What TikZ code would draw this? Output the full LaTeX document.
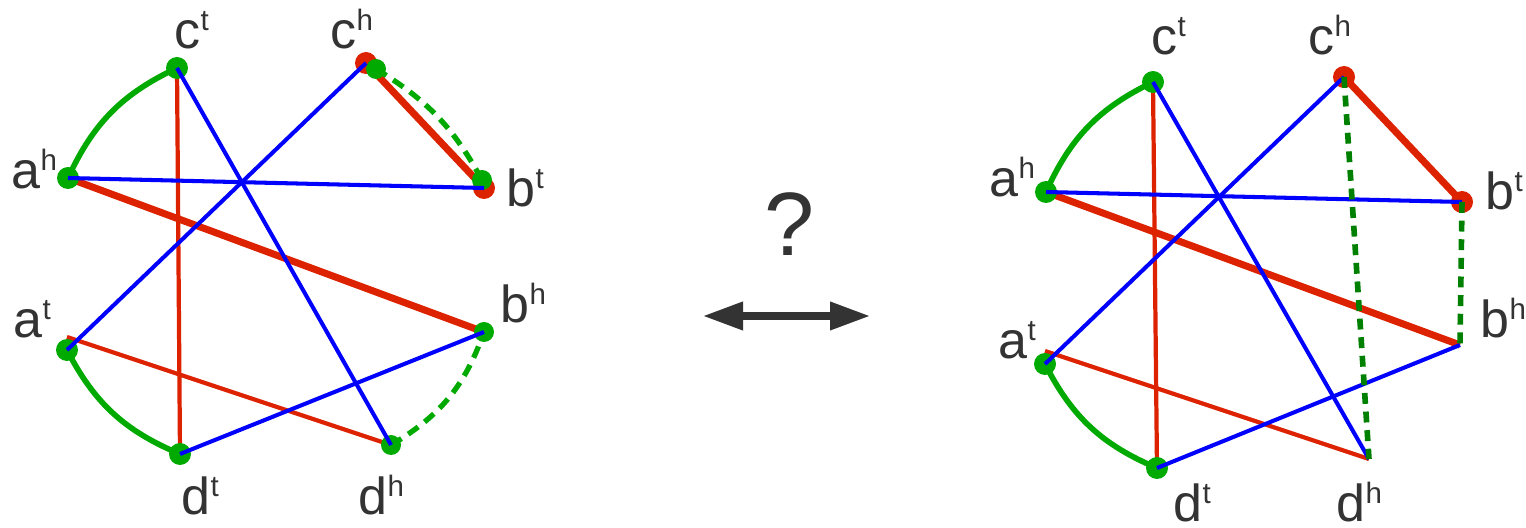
\documentclass[tikz,border=0pt]{standalone}
\usepackage{fontspec}
\setmainfont{Liberation Sans}
\usetikzlibrary{arrows.meta}
\definecolor{edgered}{RGB}{221, 34, 0}
\definecolor{edgeblue}{RGB}{0, 0, 255}
\definecolor{adjgreen}{RGB}{0, 170, 0}
\definecolor{dashgreen}{RGB}{0, 128, 0}
\definecolor{labgray}{RGB}{51, 51, 51}
\newcommand{\vlab}[2]{#1\raisebox{0.36em}{\fontsize{8.4}{9}\selectfont #2}}

\tikzset{
  vlabel/.style={font=\fontsize{14.8}{17}\selectfont, text=labgray, inner sep=0pt, text depth=0pt, anchor=base west},
  redthick/.style={edgered, line width=2pt},
  redthin/.style={edgered, line width=1.2pt},
  blueedge/.style={edgeblue, line width=1.15pt},
  greenarc/.style={adjgreen, line width=1.6pt},
  greendash/.style={adjgreen, line width=1.5pt, dash pattern=on 3.5pt off 2.3pt},
  straightdash/.style={dashgreen, line width=1.6pt, dash pattern=on 3.1pt off 2.2pt},
}

\begin{document}
\begin{tikzpicture}
  \useasboundingbox (0, 0) rectangle (15.26, 5.28);

  % Left graph
  \begin{scope}[name prefix=l-]
    \foreach \n/\x/\y in {ct/1.77/4.60, ch/3.66/4.65, chg/3.76/4.59, ah/0.68/3.50, bt/4.84/3.40,
                          btg/4.82/3.48, at/0.67/1.78, atr/0.67/1.91, bh/4.84/1.96, dt/1.80/0.74, dh/3.91/0.83}
      \coordinate (\n) at (\x, \y);

    % red edges
    \draw[redthin] (ct) -- (dt);
    \draw[redthin] (atr) -- (dh);
    \draw[redthick] (ah) -- (bh);
    \draw[redthick] (ch) -- (bt);

    % green edges
    \draw[greenarc] (ah) to[bend left=20] (ct);
    \draw[greenarc] (at) to[bend right=20] (dt);
    \draw[greendash] (chg) to[bend left=15] (btg);
    \draw[greendash] (dh) to[bend right=20] (bh);

    % ends
    \fill[edgered] (ch) circle (0.11);
    \fill[edgered] (bt) circle (0.11);
    \foreach \n in {ct, ah, at, dt}
      \fill[adjgreen] (\n) circle (0.11);
    \foreach \n in {chg, btg, bh, dh}
      \fill[adjgreen] (\n) circle (0.10);

    % blue edges
    \draw[blueedge] (ct) -- (dh);
    \draw[blueedge] (ch) -- (at);
    \draw[blueedge] (ah) -- (bt);
    \draw[blueedge] (dt) -- (bh);

    \node[vlabel] (ctlab) at (1.74, 4.79) {\vlab{c}{t}};
    \node[vlabel] (chlab) at (3.30, 4.79) {\vlab{c}{h}};
    \node[vlabel] (ahlab) at (0.11, 3.39) {\vlab{a}{h}};
    \node[vlabel] (btlab) at (5.06, 3.21) {\vlab{b}{t}};
    \node[vlabel] (atlab) at (0.13, 1.90) {\vlab{a}{t}};
    \node[vlabel] (bhlab) at (5.00, 2.05) {\vlab{b}{h}};
    \node[vlabel] (dtlab) at (1.81, 0.13) {\vlab{d}{t}};
    \node[vlabel] (dhlab) at (3.58, 0.13) {\vlab{d}{h}};
  \end{scope}

  % Question and double arrow
  \node[font=\fontsize{25.6}{30}\selectfont, text=labgray, inner sep=0pt, anchor=base] (quest) at (7.90, 2.72) {?};
  \coordinate (arrl) at (7.03, 2.12);
  \coordinate (arrr) at (8.70, 2.12);
  \draw[labgray, line width=2pt, {Triangle[length=4mm, width=2.7mm]}-{Triangle[length=4mm, width=2.7mm]}] (arrl) -- (arrr);

  % Right graph
  \begin{scope}[name prefix=r-, shift={(9.78, -0.14)}]
    \foreach \n/\x/\y in {ct/1.75/4.60, ch/3.66/4.65, ah/0.68/3.50, bt/4.84/3.40,
                          at/0.67/1.78, atr/0.67/1.91, bh/4.82/1.97, dt/1.79/0.74, dh/3.91/0.83}
      \coordinate (\n) at (\x, \y);

    % red edges
    \draw[redthin] (ct) -- (dt);
    \draw[redthin] (atr) -- (dh);
    \draw[redthick] (ah) -- (bh);
    \draw[redthick] (ch) -- (bt);

    % green edges
    \draw[greenarc] (ah) to[bend left=20] (ct);
    \draw[greenarc] (at) to[bend right=20] (dt);

    % ends
    \fill[edgered] (ch) circle (0.11);
    \fill[edgered] (bt) circle (0.11);
    \foreach \n in {ct, ah, at, dt}
      \fill[adjgreen] (\n) circle (0.11);

    % blue edges
    \draw[blueedge] (ct) -- (dh);
    \draw[blueedge] (ch) -- (at);
    \draw[blueedge] (ah) -- (bt);
    \draw[blueedge] (dt) -- (bh);

    % new green edges
    \draw[straightdash] (ch) -- (dh);
    \draw[straightdash] (bt) -- (bh);
  \end{scope}

  \node[vlabel] (r-ctlab) at (11.51, 4.73) {\vlab{c}{t}};
  \node[vlabel] (r-chlab) at (13.08, 4.73) {\vlab{c}{h}};
  \node[vlabel] (r-ahlab) at (9.89, 3.31) {\vlab{a}{h}};
  \node[vlabel] (r-btlab) at (14.85, 3.18) {\vlab{b}{t}};
  \node[vlabel] (r-atlab) at (9.98, 1.69) {\vlab{a}{t}};
  \node[vlabel] (r-bhlab) at (14.80, 1.90) {\vlab{b}{h}};
  \node[vlabel] (r-dtlab) at (11.73, 0.06) {\vlab{d}{t}};
  \node[vlabel] (r-dhlab) at (13.36, 0.06) {\vlab{d}{h}};
\end{tikzpicture}
\end{document}
